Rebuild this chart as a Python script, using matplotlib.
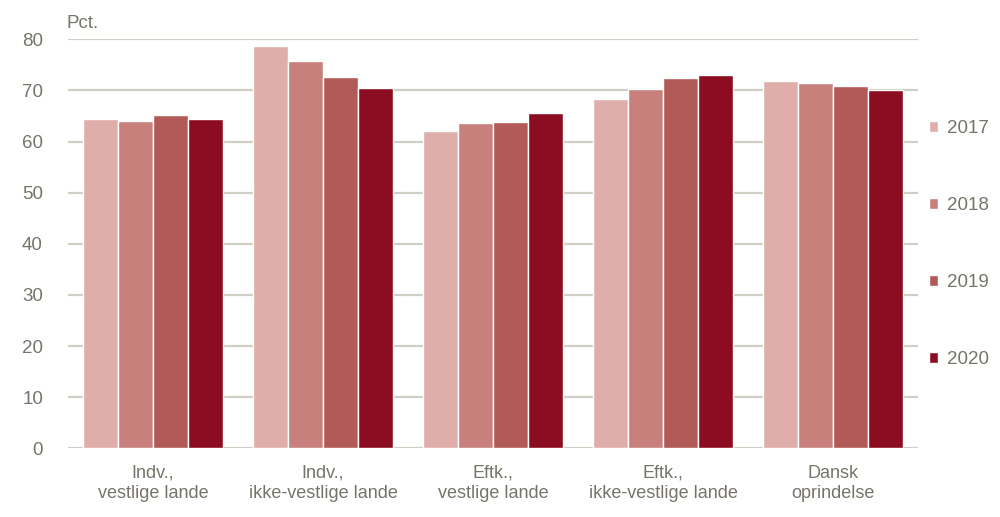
import numpy as np
import matplotlib.pyplot as plt

categories = ['Indv.,\nvestlige lande', 'Indv.,\nikke-vestlige lande', 'Eftk.,\nvestlige lande',
              'Eftk.,\nikke-vestlige lande', 'Dansk\noprindelse']
years = ['2017', '2018', '2019', '2020']
v2017 = [64.4, 78.7, 62.0, 68.3, 71.8]
v2018 = [64.0, 75.7, 63.6, 70.3, 71.4]
v2019 = [65.2, 72.6, 63.8, 72.4, 70.8]
v2020 = [64.4, 70.4, 65.6, 73.0, 70.1]
colors = ['#DFAEAA', '#C8807D', '#B25A58', '#8C0D22']

plt.rcParams['font.family'] = ['Liberation Sans Narrow', 'Liberation Sans', 'DejaVu Sans']
txt = '#76746a'
grid = '#cfcfc6'

fig = plt.figure(figsize=(10, 5.17), dpi=100)
ax = fig.add_axes([0.068, 0.133, 0.85, 0.791])

x = np.arange(len(categories))
w = 0.207
for i, vals in enumerate([v2017, v2018, v2019, v2020]):
    ax.bar(x + (i - 1.5) * w, vals, width=w, color=colors[i], edgecolor='white',
           linewidth=1, label=years[i], zorder=3)

ax.set_xlim(-0.5, 4.5)
ax.set_ylim(0, 80)
ax.set_yticks(range(0, 81, 10))
ax.yaxis.grid(True, color=grid, linewidth=1.6, zorder=0)
ax.set_xticks(x)
ax.set_xticklabels(categories, fontsize=13, color=txt, linespacing=1.25)
ax.tick_params(axis='y', labelsize=13.5, labelcolor=txt, length=0, pad=18)
ax.tick_params(axis='x', length=0, pad=12)
for s in ax.spines.values():
    s.set_visible(False)

fig.text(0.067, 0.955, 'Pct.', fontsize=13.5, color=txt, va='center')

leg = fig.legend(loc='upper left', bbox_to_anchor=(0.929, 0.767), frameon=False,
                 fontsize=13.5, labelspacing=3.2, handlelength=0.5, handleheight=0.5,
                 handletextpad=0.45, borderpad=0, borderaxespad=0)
for t in leg.get_texts():
    t.set_color(txt)

fig.savefig('out.png', dpi=100)
